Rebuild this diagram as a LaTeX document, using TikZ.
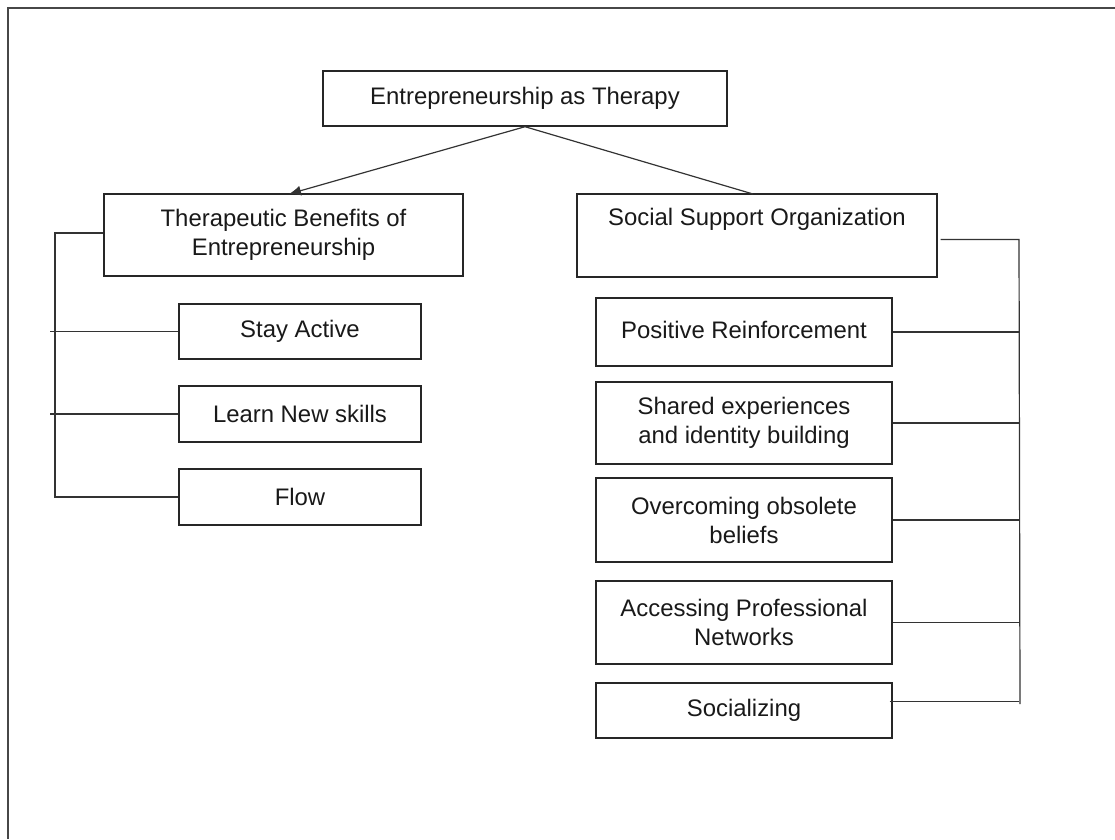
\documentclass[tikz,border=0pt]{standalone}
\usepackage{fontspec}
\setmainfont{Liberation Sans}
\usetikzlibrary{arrows.meta}
\begin{document}
\begin{tikzpicture}[x=1pt,y=-1pt,
  box/.style={draw=black!85, line width=1.4pt, rectangle, inner sep=0pt, align=center,
    font=\fontsize{23.9}{29}\selectfont, text=black!90},
  conn/.style={draw=black!80, line width=1.2pt},
  frameline/.style={draw=black!72, line width=2.2pt}]
\useasboundingbox (0,0) rectangle (1115,839);
\draw[frameline] (8,839) -- (8,8) -- (1115,8);
% nodes
\node[box, minimum width=404pt, minimum height=55pt] (root) at (525,98.5) {Entrepreneurship as Therapy};
\node[box, minimum width=359pt, minimum height=82pt] (ther) at (283.5,235) {Therapeutic Benefits of\\Entrepreneurship};
\node[box, minimum width=360pt, minimum height=83pt] (soc) at (757,235.5) {Social Support Organization\\\strut};
\node[box, minimum width=242pt, minimum height=55pt] (stay) at (300,331.5) {Stay Active};
\node[box, minimum width=242pt, minimum height=56pt] (learn) at (300,414) {Learn New skills};
\node[box, minimum width=242pt, minimum height=56pt] (flow) at (300,497) {Flow};
\node[box, minimum width=296pt, minimum height=68pt] (pos) at (744,332) {\raisebox{4pt}{Positive Reinforcement}};
\node[box, minimum width=296pt, minimum height=82pt] (shared) at (744,423) {Shared experiences\\and identity building};
\node[box, minimum width=296pt, minimum height=84pt] (over) at (744,520) {Overcoming obsolete\\beliefs};
\node[box, minimum width=296pt, minimum height=83pt] (acc) at (744,622.5) {Accessing Professional\\Networks};
\node[box, minimum width=296pt, minimum height=55pt] (socz) at (744,710.5) {Socializing};
% helper coordinates
\coordinate (tipL) at (289,194);
\coordinate (endR) at (753,194);
\coordinate (lx) at (55,0);
\coordinate (lt) at (50,0);
\coordinate (rx) at (1019,0);
\coordinate (rbot) at (1020,704);
% top connectors
\draw[conn, -{Latex[length=12pt,width=10pt]}] (root.south) -- (tipL);
\draw[conn] (root.south) -- (endR);
% left bracket
\draw[conn] ([yshift=2pt]ther.west) -- ([yshift=2pt]ther.west -| lx) -- (flow.west -| lx) -- (flow.west);
\draw[conn] (stay.west) -- (stay.west -| lt);
\draw[conn] (learn.west) -- (learn.west -| lt);
% right bracket
\draw[conn] ([xshift=3pt,yshift=-4pt]soc.east) -- ([yshift=-4pt]soc.east -| rx) -- (rbot);
\draw[conn] (pos.east) -- (pos.east -| rx);
\draw[conn] (shared.east) -- (shared.east -| rx);
\draw[conn] (over.east) -- (over.east -| rx);
\draw[conn] (acc.east) -- (acc.east -| rx);
\draw[conn] ([xshift=-3pt,yshift=9pt]socz.east) -- ([yshift=9pt]socz.east -| rx);
\end{tikzpicture}
\end{document}
